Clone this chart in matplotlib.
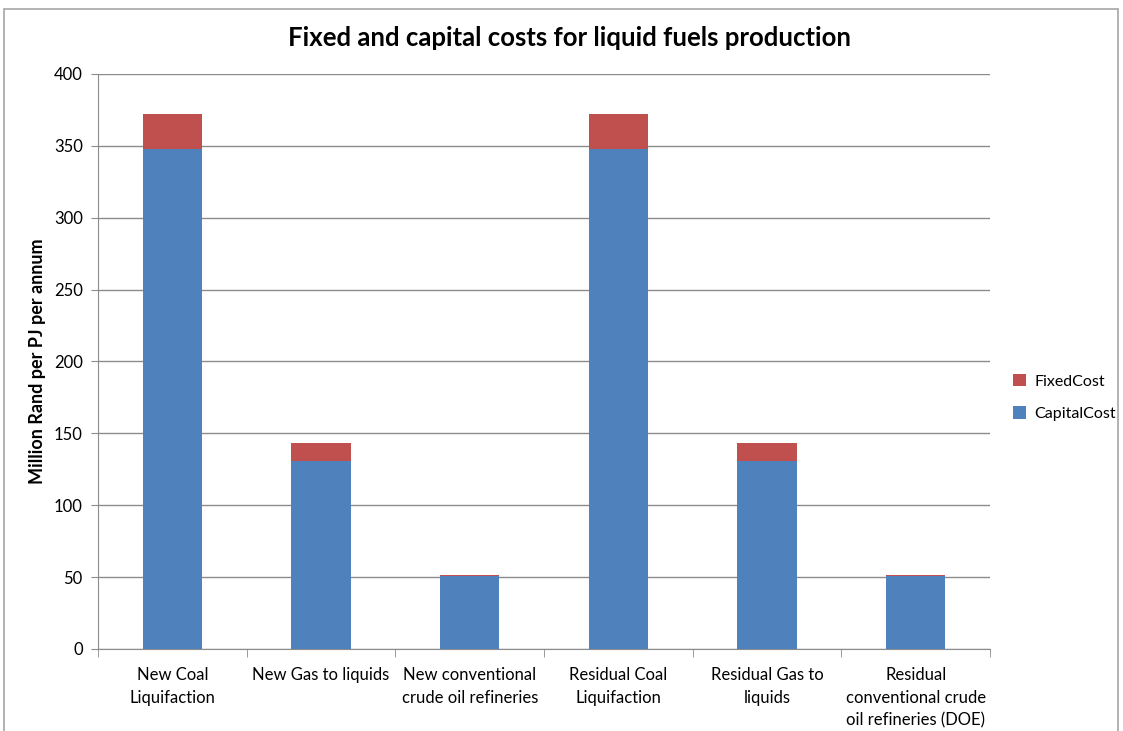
import numpy as np
import matplotlib.pyplot as plt
from matplotlib.patches import Rectangle

plt.rcParams['font.family'] = ['Lato', 'DejaVu Sans']

categories = ['New Coal\nLiquifaction', 'New Gas to liquids',
              'New conventional\ncrude oil refineries', 'Residual Coal\nLiquifaction',
              'Residual Gas to\nliquids', 'Residual\nconventional crude\noil refineries (DOE)']
capital_cost = [348, 131, 50.5, 348, 131, 50.5]
fixed_cost = [24, 12, 1, 24, 12, 1]

blue = '#4f81bd'
red = '#c0504d'
grid_col = '#8c8c8c'

fig = plt.figure(figsize=(11.23, 7.31), dpi=100)
ax = fig.add_axes([0.0873, 0.1122, 0.7943, 0.7866])

# chart border
fig.patches.append(Rectangle((4 / 1123, -0.05), 1114 / 1123, 1.05 - 9 / 731,
                             transform=fig.transFigure, fill=False,
                             edgecolor='#a6a6a6', linewidth=1.2))

x = np.arange(len(categories))
ax.bar(x, capital_cost, width=0.4, color=blue, label='CapitalCost', zorder=3)
ax.bar(x, fixed_cost, width=0.4, bottom=capital_cost, color=red, label='FixedCost', zorder=3)

ax.set_xlim(-0.5, len(categories) - 0.5)
ax.set_ylim(0, 400)
ax.set_yticks(np.arange(0, 401, 50))
ax.yaxis.grid(True, color=grid_col, linewidth=1.0, zorder=0)

ax.set_xticks(x)
ax.set_xticklabels(categories, fontsize=12, linespacing=1.5)
ax.set_xticks(np.arange(-0.5, len(categories), 1), minor=True)
ax.tick_params(axis='x', which='major', length=0, pad=13)
ax.tick_params(axis='x', which='minor', length=6, color=grid_col, direction='out')
ax.tick_params(axis='y', labelsize=12, length=5, color=grid_col, pad=6)

for s in ['top', 'right']:
    ax.spines[s].set_visible(False)
ax.spines['left'].set_color(grid_col)
ax.spines['bottom'].set_color(grid_col)

ax.set_ylabel('Million Rand per PJ per annum', fontsize=13, fontweight='bold', labelpad=6)
fig.text(0.507, 0.948, 'Fixed and capital costs for liquid fuels production',
         ha='center', va='center', fontsize=18.5, fontweight='bold')

handles, labels = ax.get_legend_handles_labels()
ax.legend(handles[::-1], labels[::-1], loc='center left', bbox_to_anchor=(1.01, 0.437),
          frameon=False, fontsize=11.5, handlelength=0.8, handleheight=0.8,
          labelspacing=1.1, handletextpad=0.5)

fig.savefig('out.png', dpi=100)
